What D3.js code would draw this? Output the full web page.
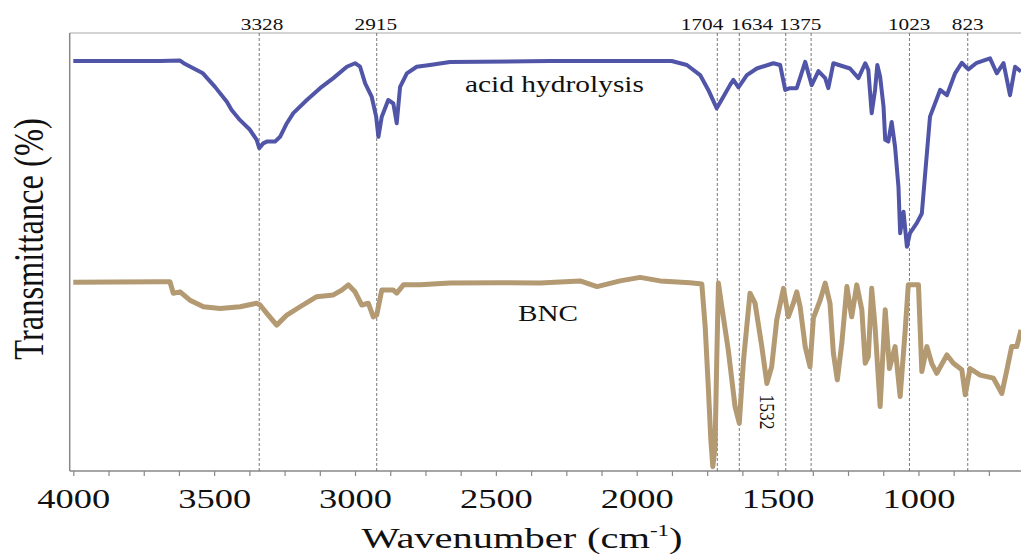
<!DOCTYPE html>
<html>
<head>
<meta charset="utf-8">
<script src="https://cdn.jsdelivr.net/npm/d3@7"></script>
<style>
  body { margin: 0; background: #fff; }
  text { font-family: "Liberation Serif", "Times New Roman", serif; fill: #111; }
</style>
</head>
<body>
<svg id="chart" width="1021" height="555"></svg>
<script>
// FTIR spectra, [wavenumber (cm-1), transmittance (a.u.)]
const acidHydrolysis = [
  [4000, 93.6], [3692, 93.6], [3621, 93.7], [3603, 92.9], [3540, 90.8], [3497, 87.7],
  [3455, 84.3], [3438, 82.4], [3408, 80.1], [3373, 77.9], [3349, 75.6], [3340, 73.7],
  [3326, 74.8], [3313, 75.2], [3284, 75.2], [3266, 76.3], [3242, 79.4], [3219, 81.7],
  [3171, 84.7], [3124, 87.4], [3077, 89.7], [3029, 92.3], [3000, 93.1], [2982, 92.3],
  [2964, 88.5], [2941, 85.5], [2925, 80.9], [2917, 76.3], [2905, 80.9], [2882, 84.7],
  [2864, 83.9], [2852, 79.4], [2840, 87.7], [2816, 90.8], [2781, 92.3], [2734, 92.7],
  [2663, 93.4], [2308, 93.6], [1876, 93.6], [1822, 92.7], [1775, 90.4], [1746, 87.0],
  [1716, 82.8], [1692, 85.5], [1669, 88.1], [1657, 89.3], [1639, 87.6], [1609, 90.4],
  [1574, 91.9], [1515, 93.1], [1491, 92.7], [1473, 87.0], [1456, 87.4], [1432, 87.4],
  [1402, 93.4], [1379, 88.1], [1355, 91.3], [1331, 89.7], [1320, 87.4], [1302, 93.1],
  [1243, 91.9], [1213, 89.7], [1189, 93.1], [1178, 91.6], [1166, 81.7], [1154, 87.0],
  [1146, 92.7], [1136, 90.0], [1124, 83.2], [1118, 75.6], [1107, 75.2], [1095, 79.7],
  [1083, 74.0], [1071, 64.9], [1065, 54.3], [1053, 59.2], [1041, 51.2], [1030, 54.3],
  [1006, 56.6], [988, 58.8], [976, 68.0], [959, 80.9], [923, 87.0], [899, 85.8],
  [870, 90.8], [846, 93.2], [823, 91.7], [793, 93.2], [746, 94.2], [722, 90.8],
  [698, 93.1], [675, 85.8], [657, 92.3], [636, 91.2]
];

const bnc = [
  [4000, 43.1], [3692, 43.2], [3657, 43.2], [3645, 40.6], [3621, 40.9], [3586, 39.0],
  [3538, 37.5], [3479, 37.1], [3408, 37.5], [3349, 38.3], [3337, 37.9], [3313, 36.0],
  [3278, 33.3], [3242, 35.6], [3195, 37.5], [3136, 39.8], [3077, 40.2], [3047, 41.3],
  [3024, 42.5], [3000, 40.9], [2976, 37.9], [2953, 38.3], [2935, 35.2], [2923, 35.6],
  [2905, 41.3], [2864, 41.3], [2852, 40.6], [2828, 42.5], [2769, 42.5], [2663, 42.9],
  [2485, 43.0], [2343, 42.9], [2201, 43.4], [2141, 42.1], [2059, 43.4], [1988, 44.2],
  [1917, 43.4], [1811, 43.0], [1769, 42.7], [1757, 32.9], [1746, 19.2], [1737, 7.1],
  [1730, 1.0], [1722, 5.5], [1716, 25.3], [1710, 42.9], [1698, 37.5], [1675, 27.6],
  [1651, 14.7], [1636, 10.9], [1621, 25.3], [1598, 40.6], [1580, 38.3], [1556, 28.4],
  [1538, 20.0], [1521, 23.8], [1503, 34.5], [1479, 41.7], [1462, 35.2], [1444, 38.3],
  [1432, 40.9], [1420, 37.5], [1402, 28.4], [1385, 23.8], [1373, 34.9], [1349, 39.0],
  [1331, 42.9], [1314, 38.3], [1302, 26.9], [1288, 20.8], [1272, 29.2], [1254, 42.1],
  [1237, 35.2], [1219, 42.5], [1201, 36.8], [1189, 24.6], [1178, 26.1], [1166, 41.7],
  [1154, 32.9], [1136, 14.7], [1118, 36.8], [1103, 23.4], [1083, 28.4], [1065, 17.0],
  [1047, 32.2], [1036, 42.5], [1000, 42.5], [988, 22.7], [970, 28.4], [953, 24.6],
  [935, 22.3], [899, 26.5], [876, 24.6], [846, 23.1], [834, 17.4], [817, 23.4],
  [781, 21.9], [734, 21.2], [704, 17.7], [686, 23.1], [669, 28.4], [651, 28.4],
  [636, 32.2]
];

// dashed marker lines (as drawn) and the labels above the frame
const markerLines = [3340, 2923, 1714, 1636, 1471, 1381, 1032, 825];
const peakLabels = ["3328", "2915", "1704", "1634", "1375", "1023", "823"];
const peakLabelPos = [3330, 2926, 1768, 1591, 1420, 1033, 825];

const majorTicks = [4000, 3500, 3000, 2500, 2000, 1500, 1000];
const minorTicks = d3.range(4000, 636, -125);

const svg = d3.select("#chart");
const plotLeft = 73.3, plotRight = 1021, plotTop = 33, plotBottom = 471, frameLeft = 69.7;

const x = d3.scaleLinear().domain([4000, 636]).range([plotLeft, plotRight]);
const y = d3.scaleLinear().domain([0, 100]).range([plotBottom, plotTop]);

// frame
svg.append("line")
  .attr("x1", frameLeft).attr("x2", plotRight).attr("y1", plotTop).attr("y2", plotTop)
  .attr("stroke", "#aaa").attr("stroke-width", 1.2);
svg.append("line")
  .attr("x1", frameLeft).attr("x2", frameLeft).attr("y1", plotTop).attr("y2", plotBottom)
  .attr("stroke", "#888").attr("stroke-width", 1.5);
svg.append("line")
  .attr("x1", frameLeft).attr("x2", plotRight).attr("y1", plotBottom).attr("y2", plotBottom)
  .attr("stroke", "#888").attr("stroke-width", 1.5);

// x axis
const xAxis = svg.append("g")
  .attr("transform", `translate(0,${plotBottom})`)
  .call(d3.axisBottom(x)
    .tickValues(minorTicks)
    .tickSize(5)
    .tickSizeOuter(0)
    .tickFormat(d => majorTicks.includes(d) ? d : ""));
xAxis.select(".domain").remove();
xAxis.selectAll(".tick line").attr("stroke", "#888").attr("stroke-width", 1.2);
xAxis.selectAll(".tick text")
  .attr("dy", null)
  .attr("y", 37)
  .attr("transform", "scale(1.35,1)")
  .attr("font-size", "27px")
  .attr("font-family", "Liberation Serif, serif")
  .attr("fill", "#111");

// dashed marker lines
svg.append("g").selectAll("line")
  .data(markerLines)
  .join("line")
  .attr("x1", d => x(d)).attr("x2", d => x(d))
  .attr("y1", plotTop).attr("y2", plotBottom)
  .attr("stroke", "#555")
  .attr("stroke-width", 0.8)
  .attr("stroke-dasharray", "3,2");

// spectra
const line = d3.line().x(d => x(d[0])).y(d => y(d[1]));

svg.append("path")
  .datum(bnc)
  .attr("d", line)
  .attr("fill", "none")
  .attr("stroke", "#b39a72")
  .attr("stroke-width", 5)
  .attr("stroke-linejoin", "round");

svg.append("path")
  .datum(acidHydrolysis)
  .attr("d", line)
  .attr("fill", "none")
  .attr("stroke", "#5055a8")
  .attr("stroke-width", 4)
  .attr("stroke-linejoin", "round");

// peak labels above the frame
svg.append("g").selectAll("text")
  .data(peakLabels)
  .join("text")
  .attr("transform", (d, i) => `translate(${x(peakLabelPos[i])},30) scale(1.25,1)`)
  .attr("text-anchor", "middle")
  .attr("font-size", "17px")
  .text(d => d);

// rotated 1532 label
svg.append("text")
  .attr("transform", `translate(${x(1534) - 8},412) scale(1.25,1) rotate(90)`)
  .attr("text-anchor", "middle")
  .attr("font-size", "17.5px")
  .text("1532");

// series labels
svg.append("text")
  .attr("transform", "translate(465,92) scale(1.28,1)")
  .attr("font-size", "23px")
  .text("acid hydrolysis");
svg.append("text")
  .attr("transform", "translate(518,321) scale(1.27,1)")
  .attr("font-size", "23px")
  .text("BNC");

// axis titles
const xt = svg.append("text")
  .attr("transform", "translate(522,548) scale(1.35,1)")
  .attr("text-anchor", "middle")
  .attr("font-size", "30px");
xt.append("tspan").text("Wavenumber");
xt.append("tspan").attr("dx", 8).text("(cm");
xt.append("tspan").attr("font-size", "17px").attr("dy", -12).text("-1");
xt.append("tspan").attr("dy", 12).text(")");

svg.append("text")
  .attr("transform", "translate(43,239) scale(1.33,1) rotate(-90)")
  .attr("text-anchor", "middle")
  .attr("font-size", "32.5px")
  .text("Transmittance (%)");
</script>
</body>
</html>
